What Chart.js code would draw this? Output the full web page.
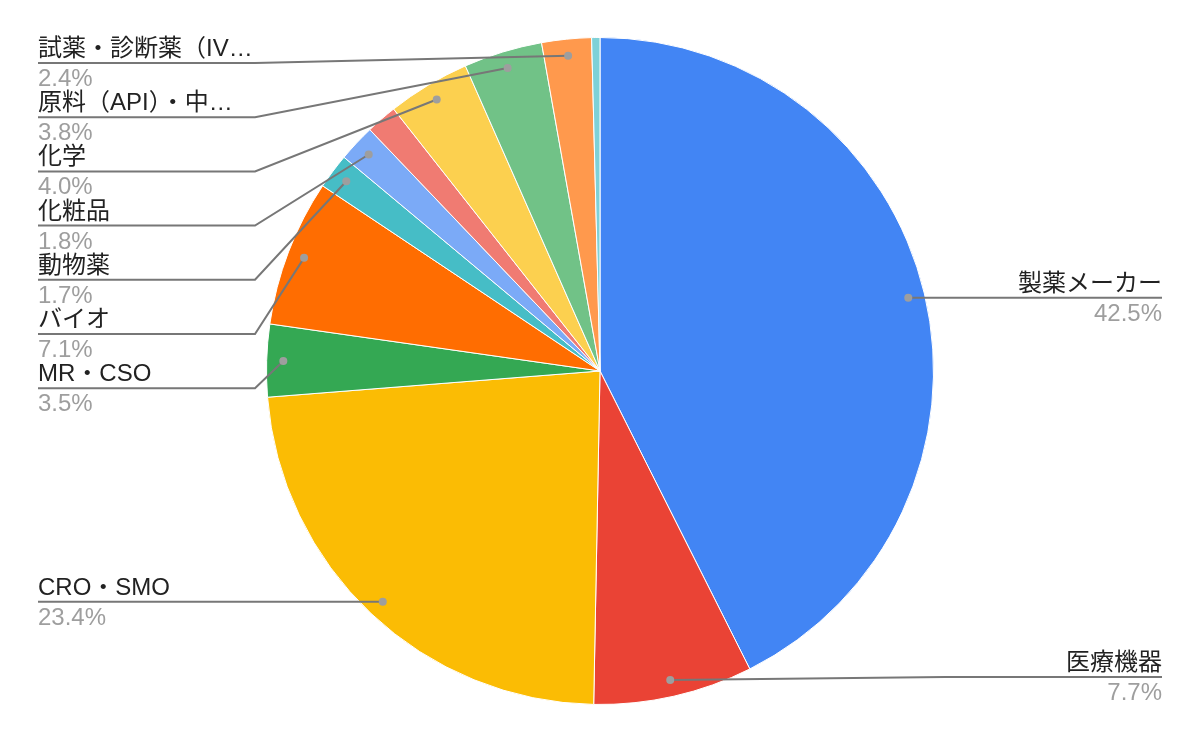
<!DOCTYPE html>
<html>
<head>
<meta charset="utf-8">
<script src="https://cdn.jsdelivr.net/npm/chart.js@4"></script>
<style>
  html, body { margin: 0; padding: 0; background: #fff; }
  #wrap { width: 1200px; height: 742px; }
</style>
</head>
<body>
<div id="wrap"><canvas id="chartjs-pie-gyoshu" width="1200" height="742"></canvas></div>
<script>
// slices clockwise from 12 o'clock
const categories = [
  "製薬メーカー",
  "医療機器",
  "CRO・SMO",
  "MR・CSO",
  "バイオ",
  "動物薬",
  "化粧品",
  "食品",
  "化学",
  "原料（API）・中…",
  "試薬・診断薬（IV…",
  "その他",
];
const shares = [42.5, 7.7, 23.4, 3.5, 7.1, 1.7, 1.8, 1.5, 4.0, 3.8, 2.4, 0.4];
// google sheets drops the label on the two thin slices
const labelShown = [true, true, true, true, true, true, true, false, true, true, true, false];

const colors = [
  "#4285f4", "#ea4335", "#fbbc04", "#34a853", "#ff6d01", "#46bdc6",
  "#7baaf7", "#f07b72", "#fcd04f", "#71c287", "#ff994d", "#7ed1d7",
];

const FONT = "Arial, 'Liberation Sans', 'Noto Sans CJK JP', sans-serif";

const sideLabels = {
  id: "sideLabels",
  afterDatasetsDraw(chart) {
    const ctx = chart.ctx;
    const arcs = chart.getDatasetMeta(0).data;
    const left = [];
    const right = [];
    arcs.forEach((arc, i) => {
      if (!labelShown[i]) return;
      const p = arc.getProps(["x", "y", "startAngle", "endAngle", "outerRadius"], true);
      const mid = (p.startAngle + p.endAngle) / 2;
      const item = {
        i: i,
        ax: p.x + Math.cos(mid) * p.outerRadius * 0.95,
        ay: p.y + Math.sin(mid) * p.outerRadius * 0.95,
      };
      (item.ax < p.x ? left : right).push(item);
    });

    const gap = 54.2;
    left.sort((a, b) => a.ay - b.ay);
    let prev = -Infinity;
    left.forEach((it) => {
      it.ly = Math.max(it.ay, 63, prev + gap);
      prev = it.ly;
    });
    right.sort((a, b) => a.ay - b.ay);
    prev = -Infinity;
    right.forEach((it) => {
      it.ly = Math.min(Math.max(it.ay, 63, prev + gap), chart.height - 65);
      prev = it.ly;
    });

    ctx.save();
    ctx.lineWidth = 2;
    ctx.strokeStyle = "#777777";

    const drawOne = (it, side) => {
      const xText = side === "left" ? 38 : 1162;
      const xElbow = side === "left" ? Math.min(255, it.ax) : Math.max(945, it.ax);
      ctx.beginPath();
      ctx.moveTo(xText, it.ly);
      ctx.lineTo(xElbow, it.ly);
      ctx.lineTo(it.ax, it.ay);
      ctx.stroke();

      ctx.fillStyle = "#9e9e9e";
      ctx.beginPath();
      ctx.arc(it.ax, it.ay, 4, 0, Math.PI * 2);
      ctx.fill();

      ctx.textAlign = side === "left" ? "left" : "right";
      ctx.textBaseline = "alphabetic";
      ctx.font = "24px " + FONT;
      ctx.fillStyle = "#222222";
      ctx.fillText(categories[it.i], xText, it.ly - 7);
      ctx.fillStyle = "#9e9e9e";
      ctx.fillText(shares[it.i].toFixed(1) + "%", xText, it.ly + 23);
    };
    left.forEach((it) => drawOne(it, "left"));
    right.forEach((it) => drawOne(it, "right"));
    ctx.restore();
  },
};

new Chart(document.getElementById("chartjs-pie-gyoshu"), {
  type: "pie",
  data: {
    labels: categories,
    datasets: [
      {
        data: shares,
        backgroundColor: colors,
        borderColor: "#ffffff",
        borderWidth: 1,
      },
    ],
  },
  options: {
    responsive: false,
    animation: false,
    layout: {
      padding: { top: 37, bottom: 37, left: 0, right: 0 },
    },
    plugins: {
      legend: { display: false },
      tooltip: { enabled: false },
    },
  },
  plugins: [sideLabels],
});
</script>
</body>
</html>
